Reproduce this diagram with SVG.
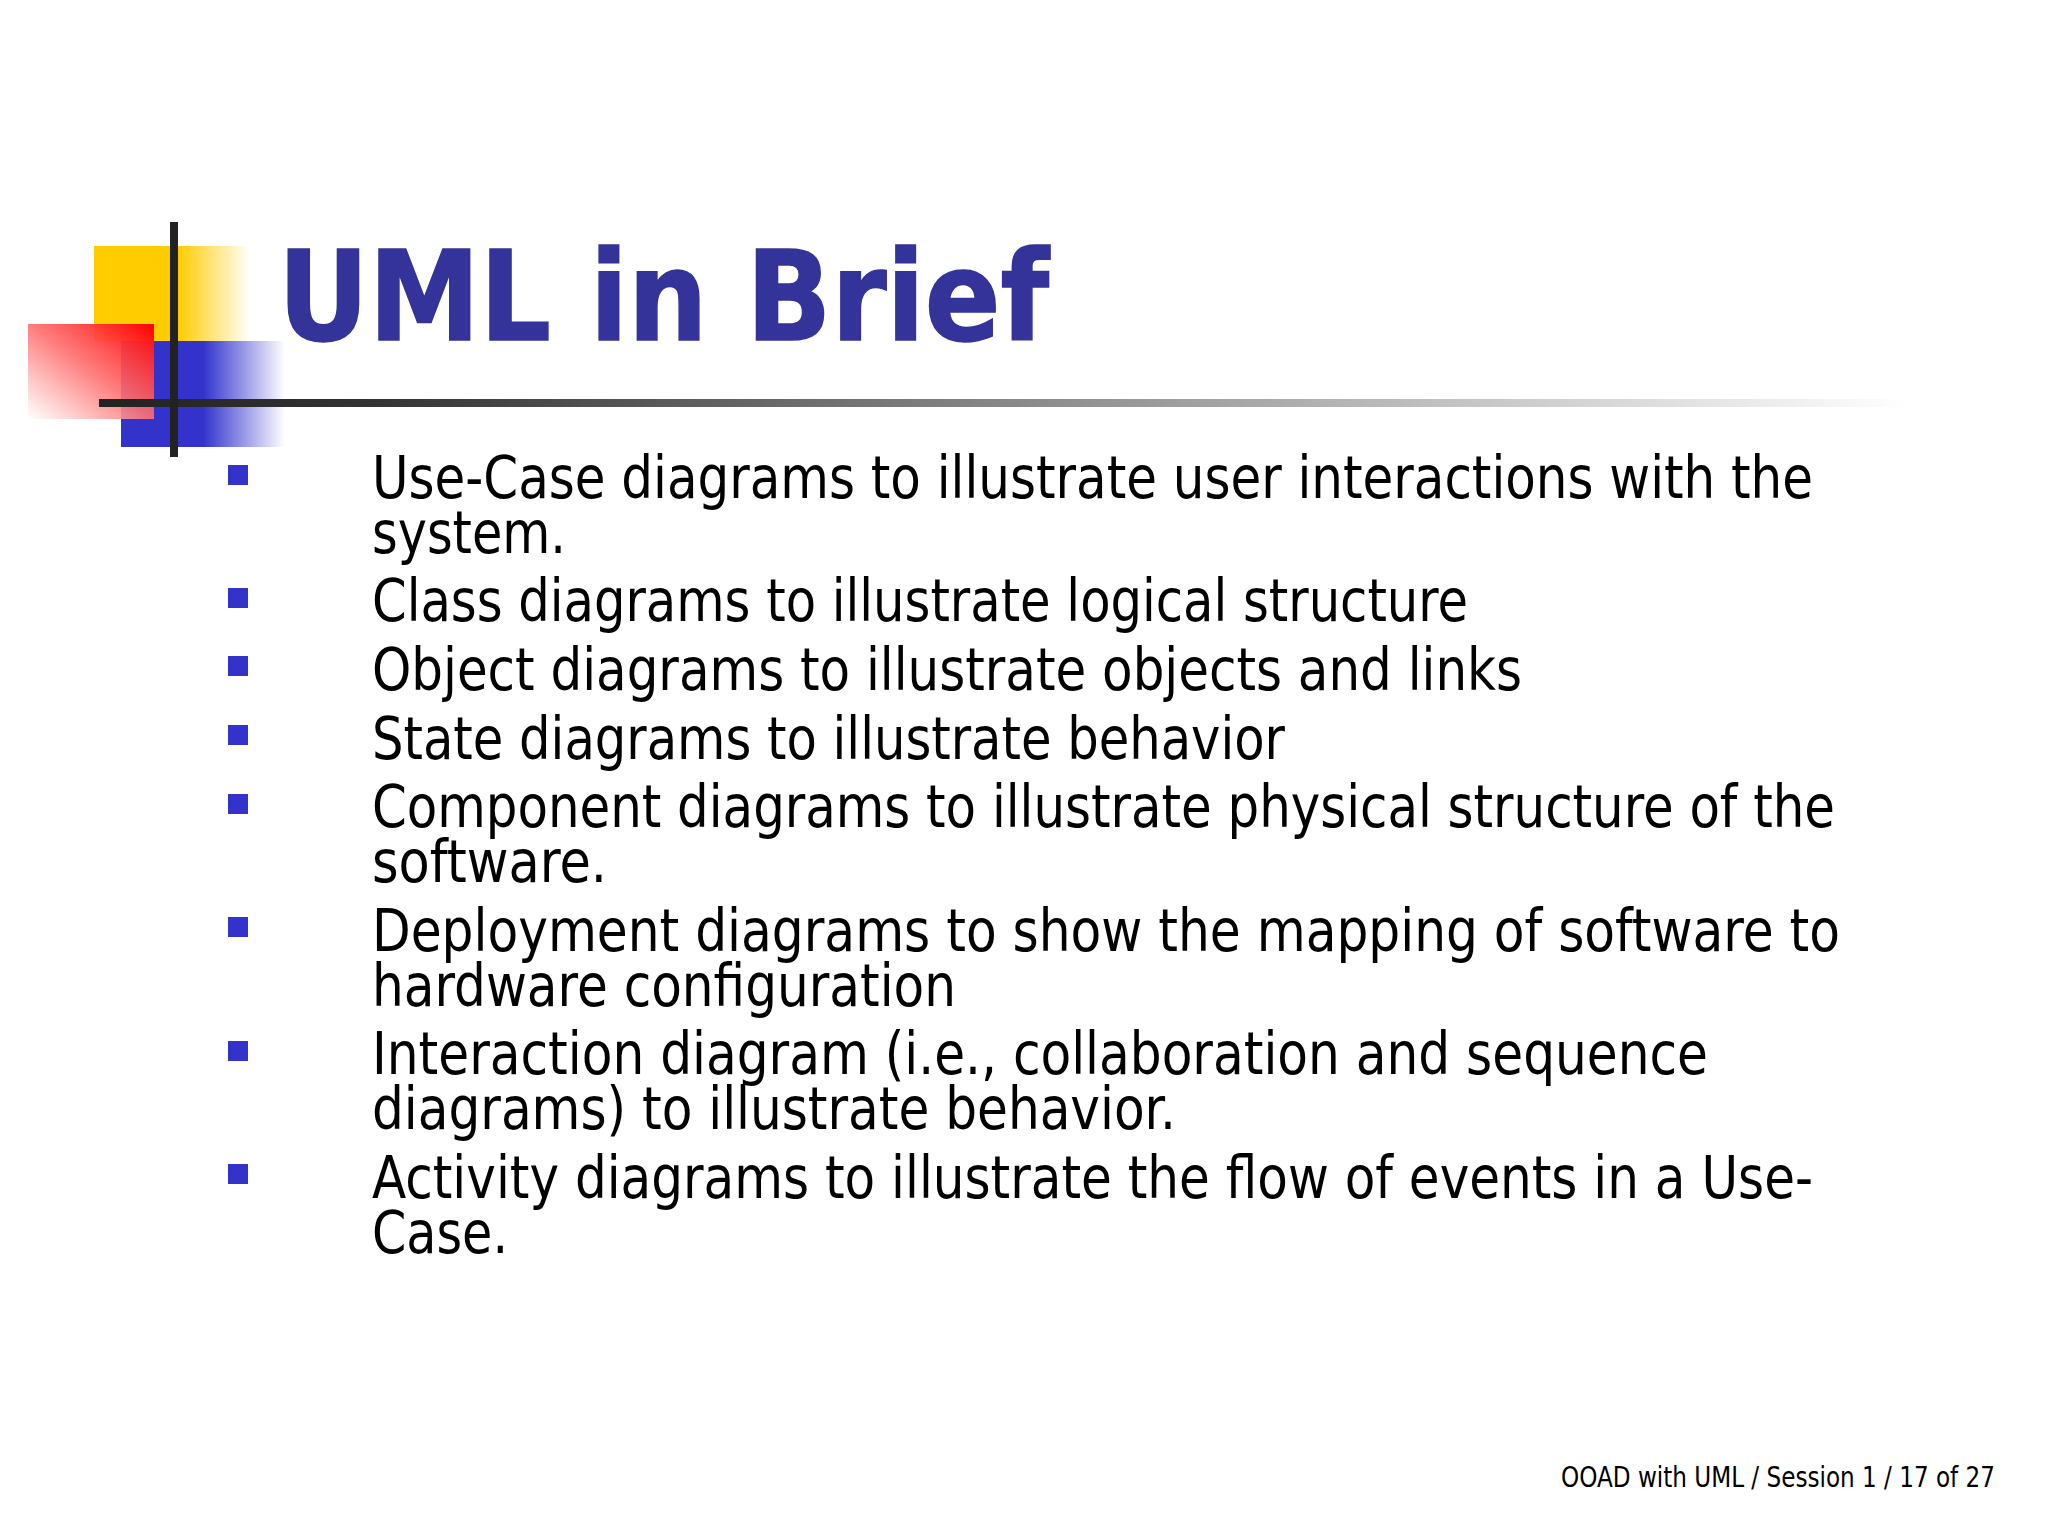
<svg xmlns="http://www.w3.org/2000/svg" width="2048" height="1536" viewBox="0 0 2048 1536">
<style>
.b{font-family:"DejaVu Sans Condensed","DejaVu Sans",sans-serif;font-size:58px;fill:#000}
.s{fill:#3333cc}
</style>
<defs>
<linearGradient id="y" x1="0" x2="1" y1="0" y2="0"><stop offset="0" stop-color="#fc0"/><stop offset=".54" stop-color="#fc0"/><stop offset="1" stop-color="#fc0" stop-opacity="0"/></linearGradient>
<linearGradient id="bl" x1="0" x2="1" y1="0" y2="0"><stop offset="0" stop-color="#33c"/><stop offset=".5" stop-color="#33c"/><stop offset="1" stop-color="#33c" stop-opacity="0"/></linearGradient>
<linearGradient id="r" x1="1" x2="0" y1="0" y2="1"><stop offset="0" stop-color="#f00"/><stop offset=".5" stop-color="#ff7070" stop-opacity=".9"/><stop offset="1" stop-color="#fff" stop-opacity=".85"/></linearGradient>
<linearGradient id="h" gradientUnits="userSpaceOnUse" x1="99" x2="1908" y1="0" y2="0"><stop offset="0" stop-color="#222"/><stop offset=".15" stop-color="#333"/><stop offset="1" stop-color="#333" stop-opacity="0"/></linearGradient>
</defs>
<rect width="2048" height="1536" fill="#fff"/>
<g id="logo">
<rect x="94" y="246" width="156" height="95" fill="url(#y)"/>
<rect x="121" y="341" width="164" height="106" fill="url(#bl)"/>
<rect x="28" y="324" width="126" height="95" fill="url(#r)"/>
<rect x="99" y="399" width="1809" height="8" fill="url(#h)"/>
<rect x="170" y="222" width="8" height="235" fill="#222"/>
</g>
<g id="title"><text x="278" y="340" textLength="771" lengthAdjust="spacingAndGlyphs" font-family="'DejaVu Sans Condensed','DejaVu Sans',sans-serif" font-weight="700" font-size="125" fill="#339" stroke="#339" stroke-width="1.5">UML in Brief</text></g>
<g id="bullets">
<rect class="s" x="228" y="465" width="20" height="20"/>
<rect class="s" x="228" y="588" width="20" height="20"/>
<rect class="s" x="228" y="656" width="20" height="20"/>
<rect class="s" x="228" y="725" width="20" height="20"/>
<rect class="s" x="228" y="794" width="20" height="20"/>
<rect class="s" x="228" y="917" width="20" height="20"/>
<rect class="s" x="228" y="1041" width="20" height="20"/>
<rect class="s" x="228" y="1164" width="20" height="20"/>
</g>
<g id="body">
<text class="b" x="372" y="498" textLength="1441" lengthAdjust="spacingAndGlyphs">Use-Case diagrams to illustrate user interactions with the</text>
<text class="b" x="372" y="553" textLength="194" lengthAdjust="spacingAndGlyphs">system.</text>
<text class="b" x="372" y="621" textLength="1096" lengthAdjust="spacingAndGlyphs">Class diagrams to illustrate logical structure</text>
<text class="b" x="372" y="690" textLength="1150" lengthAdjust="spacingAndGlyphs">Object diagrams to illustrate objects and links</text>
<text class="b" x="372" y="759" textLength="913" lengthAdjust="spacingAndGlyphs">State diagrams to illustrate behavior</text>
<text class="b" x="372" y="827" textLength="1463" lengthAdjust="spacingAndGlyphs">Component diagrams to illustrate physical structure of the</text>
<text class="b" x="372" y="882" textLength="235" lengthAdjust="spacingAndGlyphs">software.</text>
<text class="b" x="372" y="951" textLength="1468" lengthAdjust="spacingAndGlyphs">Deployment diagrams to show the mapping of software to</text>
<text class="b" x="372" y="1006" textLength="584" lengthAdjust="spacingAndGlyphs">hardware configuration</text>
<text class="b" x="372" y="1074" textLength="1336" lengthAdjust="spacingAndGlyphs">Interaction diagram (i.e., collaboration and sequence</text>
<text class="b" x="372" y="1129" textLength="804" lengthAdjust="spacingAndGlyphs">diagrams) to illustrate behavior.</text>
<text class="b" x="372" y="1198" textLength="1441" lengthAdjust="spacingAndGlyphs">Activity diagrams to illustrate the flow of events in a Use-</text>
<text class="b" x="372" y="1253" textLength="136" lengthAdjust="spacingAndGlyphs">Case.</text>
</g>
<g id="footer"><text x="1561" y="1487" textLength="434" lengthAdjust="spacingAndGlyphs" font-family="'DejaVu Sans Condensed','DejaVu Sans',sans-serif" font-size="28" fill="#000">OOAD with UML / Session 1 / 17 of 27</text></g>
</svg>
